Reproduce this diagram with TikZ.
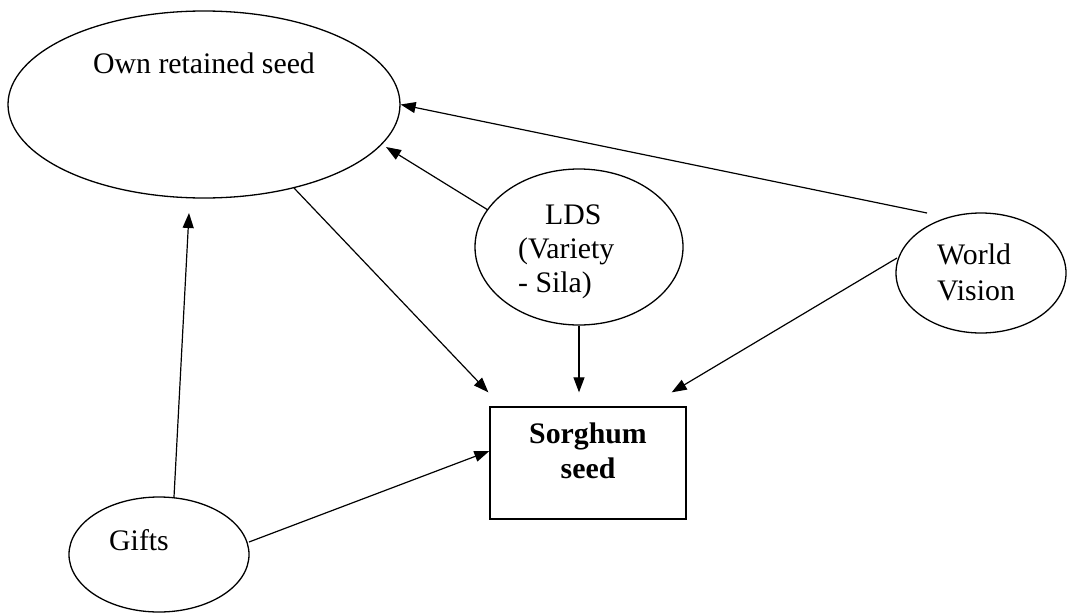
\documentclass[tikz,border=0pt]{standalone}
\usepackage{fontspec}
\setmainfont{Liberation Serif}
\usetikzlibrary{arrows.meta,shapes.geometric}

\begin{document}
\begin{tikzpicture}[x=1pt,y=-1pt,
  every node/.style={font=\fontsize{29.8}{36}\selectfont},
  source/.style={draw=black,line width=1.3pt,ellipse,inner sep=0pt},
  target/.style={draw=black,line width=1.3pt,rectangle,inner sep=0pt,
                 minimum width=196pt,minimum height=112pt},
  caption/.style={inner sep=0pt,anchor=base},
  lcaption/.style={inner sep=0pt,anchor=base west},
  flow/.style={draw=black,line width=1.2pt,
               -{Triangle[length=15pt,width=11pt]}}]

  \useasboundingbox (0,0) rectangle (1067,613);

  % seed sources
  \node[source,minimum width=392pt,minimum height=187pt] (own) at (204,104.5) {};
  \node[source,minimum width=208pt,minimum height=156pt] (lds) at (579,247) {};
  \node[source,minimum width=170pt,minimum height=120pt] (wv) at (981,273) {};
  \node[source,minimum width=180pt,minimum height=115pt] (gifts) at (159,554.5) {};

  % destination
  \node[target] (sorghum) at (588,463) {};

  % labels
  \node[caption] (ownlbl) at (204,73) {Own retained seed};
  \node[lcaption] (ldsa) at (545,224) {LDS};
  \node[lcaption] (ldsb) at (518,258) {(Variety};
  \node[lcaption] (ldsc) at (518,292) {- Sila)};
  \node[lcaption] (wva) at (937,264) {World};
  \node[lcaption] (wvb) at (937,300) {Vision};
  \node[lcaption] (giftslbl) at (109,550) {Gifts};
  \node[caption,font=\fontsize{29.8}{36}\selectfont\bfseries] (sorga) at (588,443) {Sorghum};
  \node[caption,font=\fontsize{29.8}{36}\selectfont\bfseries] (sorgb) at (588,478) {seed};

  % flows into sorghum seed
  \draw[flow] ([shift={(90,83.5)}]own.center) -- ([shift={(-1,-14)}]sorghum.north west);
  \draw[flow] (lds.south) -- ([yshift=14pt]sorghum.north -| lds.south);
  \draw[flow] ([shift={(-84,-15)}]wv.center) -- ([shift={(-15,-14)}]sorghum.north east);
  \draw[flow] ([shift={(90,-12.5)}]gifts.center) -- ([shift={(0,-12)}]sorghum.west);

  % flows into own retained seed
  \draw[flow] ([shift={(-54,-60)}]wv.center) -- (own.east);
  \draw[flow] ([shift={(-91,-37)}]lds.center) -- ([shift={(182,42.5)}]own.center);
  \draw[flow] ([shift={(15,-57.5)}]gifts.center) -- ([shift={(-15,108.5)}]own.center);
\end{tikzpicture}
\end{document}
